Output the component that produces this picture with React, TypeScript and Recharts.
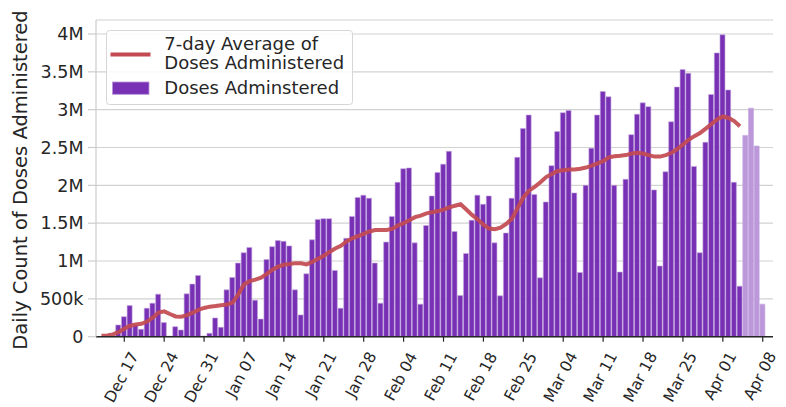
import { ComposedChart, Bar, Line, XAxis, YAxis, CartesianGrid, Legend, Cell } from 'recharts'

// first day in the arrays is Dec 13; day 0 on the axis is Dec 17
const firstDayOffset = -4

// daily doses, thousands, Dec 13 .. Apr 08
const dosesK = [
  2, 4, 8, 155,
  265, 411, 155, 98, 376, 443, 562,
  186, 8, 133, 89, 566, 695, 809,
  10, 44, 248, 124, 619, 783, 973,
  1110, 1180, 483, 233, 1020, 1190, 1270,
  1260, 1200, 619, 288, 831, 1280, 1550,
  1560, 1560, 876, 376, 1300, 1590, 1840,
  1870, 1830, 973, 443, 1250, 1590, 2040,
  2220, 2230, 1240, 430, 1470, 1860, 2170,
  2280, 2450, 1390, 544, 1100, 1540, 1870,
  1750, 1860, 1240, 540, 1370, 1830, 2370,
  2750, 2930, 1880, 778, 1780, 2260, 2710,
  2960, 2990, 1900, 849, 2000, 2490, 2930,
  3240, 3170, 2000, 854, 2080, 2670, 2940,
  3090, 3040, 1940, 934, 2180, 2840, 3300,
  3530, 3480, 2250, 1110, 2570, 3200, 3750,
  3990, 3260, 2040, 668, 2660, 3020, 2520,
  430,
]

// 7-day average, thousands, Dec 13 .. Apr 04
const avgK = [
  12, 15, 30, 60,
  105, 145, 160, 170, 200, 250, 318,
  335, 300, 268, 265, 285, 318, 355,
  380, 397, 405, 415, 425, 450, 560,
  690, 735, 755, 780, 830, 885, 925,
  950, 960, 972, 970, 955, 990, 1030,
  1070, 1120, 1165, 1200, 1260, 1300, 1330,
  1360, 1390, 1410, 1410, 1410, 1425, 1470,
  1500, 1540, 1580, 1600, 1630, 1645, 1660,
  1680, 1710, 1730, 1750, 1680, 1610, 1550,
  1480, 1430, 1420, 1440, 1490, 1560, 1700,
  1840, 1930, 1980, 2040, 2110, 2150, 2190,
  2200, 2210, 2210, 2220, 2235, 2260, 2290,
  2320, 2370, 2385, 2390, 2400, 2420, 2430,
  2420, 2400, 2380, 2380, 2400, 2430, 2480,
  2540, 2600, 2650, 2690, 2750, 2810, 2870,
  2910, 2890, 2850, 2780,
]

// last days are still incomplete and drawn lighter
const partialDays = 4

const xTicks = [0, 7, 14, 21, 28, 35, 42, 49, 56, 63, 70, 77, 84, 91, 98, 105, 112]
const xTickLabels = [
  'Dec 17', 'Dec 24', 'Dec 31', 'Jan 07', 'Jan 14', 'Jan 21', 'Jan 28', 'Feb 04', 'Feb 11',
  'Feb 18', 'Feb 25', 'Mar 04', 'Mar 11', 'Mar 18', 'Mar 25', 'Apr 01', 'Apr 08',
]
const yTicks = [0, 500000, 1000000, 1500000, 2000000, 2500000, 3000000, 3500000, 4000000]
const yTickLabels = ['0', '500k', '1M', '1.5M', '2M', '2.5M', '3M', '3.5M', '4M']

const FONT = '"DejaVu Sans", sans-serif'
const TEXT = '#262626'
const PURPLE = '#7831b4'
const PURPLE_LIGHT = '#bc98da'
const RED = '#c24a50'

const data = dosesK.map((d, i) => ({
  day: i + firstDayOffset,
  doses: d * 1000,
  avg: i < avgK.length ? avgK[i] * 1000 : null,
}))

const charW: Record<string, number> = {
  D: 0.77, e: 0.615, c: 0.55, J: 0.295, a: 0.613, n: 0.634, F: 0.575, b: 0.635,
  M: 0.863, r: 0.411, A: 0.684, p: 0.635, ' ': 0.318,
}

const X_ANGLE = 62

function XTick(props: any) {
  const { x, y, payload } = props
  const label = xTickLabels[xTicks.indexOf(payload.value)] ?? ''
  const fs = 15.5
  const w = label.split('').reduce((s: number, ch: string) => s + (charW[ch] ?? 0.636), 0) * fs
  const rad = (X_ANGLE * Math.PI) / 180
  const cx = x - 2.5
  const cy = y + 8 + (Math.sin(rad) * w + Math.cos(rad) * 15) / 2
  return (
    <text
      x={cx}
      y={cy}
      transform={`rotate(${-X_ANGLE} ${cx} ${cy})`}
      textAnchor="middle"
      dominantBaseline="central"
      fontFamily={FONT}
      fontSize={fs}
      fill={TEXT}
    >
      {label}
    </text>
  )
}

function YLabel() {
  return (
    <text
      x={27}
      y={180}
      transform="rotate(-90 27 180)"
      textAnchor="middle"
      fontFamily={FONT}
      fontSize={19.5}
      fill={TEXT}
    >
      Daily Count of Doses Administered
    </text>
  )
}

function LegendBox() {
  return (
    <svg width={248} height={76} style={{ display: 'block' }}>
      <rect x={0.5} y={0.5} width={246} height={74} rx={3} fill="rgba(255,255,255,0.85)" stroke="#d6d6d6" />
      <line x1={4.5} x2={44.5} y1={24.6} y2={24.6} stroke={RED} strokeWidth={4} />
      <text x={58.3} y={20.3} fontFamily={FONT} fontSize={18} fill={TEXT}>7-day Average of</text>
      <text x={58.3} y={38.6} fontFamily={FONT} fontSize={18} fill={TEXT}>Doses Administered</text>
      <rect x={6.5} y={52} width={36.5} height={12.3} fill={PURPLE} stroke="#b896d8" strokeWidth={0.8} />
      <text x={58.3} y={64.3} fontFamily={FONT} fontSize={18} fill={TEXT}>Doses Adminstered</text>
    </svg>
  )
}

export default function App() {
  const n = data.length
  return (
    <div style={{ position: 'absolute', left: 0, top: 0, width: 786, height: 407, background: '#fff' }}>
      <ComposedChart width={786} height={407} data={data} margin={{ top: 20, right: 13, bottom: 0, left: 36 }}>
        <CartesianGrid horizontal vertical={false} stroke="#d2d2d2" strokeWidth={1.2} />
        <XAxis
          dataKey="day"
          type="number"
          domain={[-4.96, 113.8]}
          allowDataOverflow
          ticks={xTicks}
          interval={0}
          height={70.3}
          tickSize={5}
          tickMargin={0}
          tick={<XTick />}
          axisLine={{ stroke: TEXT, strokeWidth: 1.5 }}
          tickLine={{ stroke: TEXT, strokeWidth: 1.2 }}
        />
        <YAxis
          type="number"
          domain={[0, 4185000]}
          allowDataOverflow
          ticks={yTicks}
          interval={0}
          width={60}
          tickSize={8}
          tickMargin={4.5}
          tickFormatter={(v: number) => yTickLabels[yTicks.indexOf(v)] ?? ''}
          tick={{ fill: TEXT, fontSize: 17.5, fontFamily: FONT }}
          axisLine={{ stroke: '#cccccc', strokeWidth: 1.2 }}
          tickLine={{ stroke: '#cccccc', strokeWidth: 1.2 }}
          label={YLabel}
        />
        <Bar dataKey="doses" barSize={5} stroke="#c4a8e0" strokeWidth={0.6} isAnimationActive={false}>
          {data.map((_, i) => (
            <Cell key={i} fill={i >= n - partialDays ? PURPLE_LIGHT : PURPLE} />
          ))}
        </Bar>
        <Line
          dataKey="avg"
          type="linear"
          stroke={RED}
          strokeWidth={4}
          strokeOpacity={0.92}
          dot={false}
          isAnimationActive={false}
        />
        <Legend
          layout="vertical"
          align="center"
          verticalAlign="middle"
          content={() => <LegendBox />}
          wrapperStyle={{ left: 106, top: 30, width: 248, height: 76 }}
        />
      </ComposedChart>
    </div>
  )
}
